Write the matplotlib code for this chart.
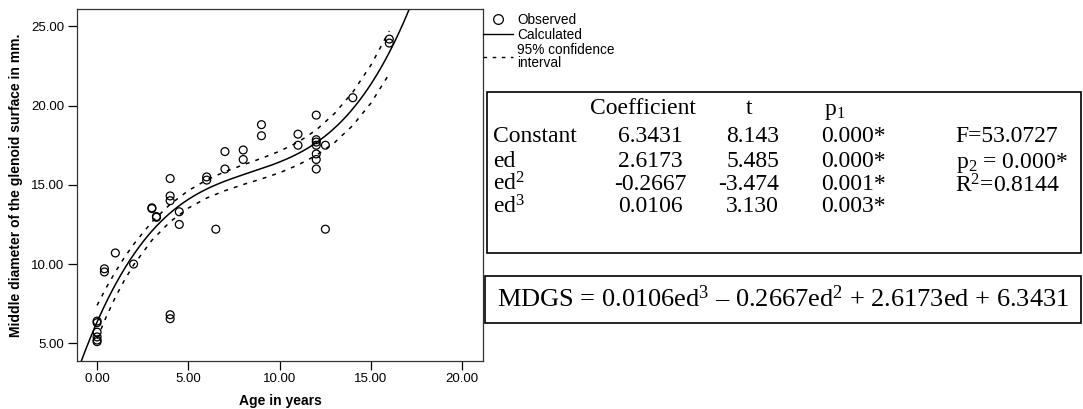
import numpy as np
import matplotlib.pyplot as plt
from matplotlib.lines import Line2D
from matplotlib.patches import Rectangle

plt.rcParams['font.family'] = 'Liberation Sans'
plt.rcParams['mathtext.fontset'] = 'custom'
plt.rcParams['mathtext.rm'] = 'Liberation Serif'
plt.rcParams['mathtext.it'] = 'Liberation Serif:italic'

# observed glenoid widths by age
age = [0, 0, 0, 0, 0, 0, 0.4, 0.4, 1, 2, 3, 3, 3.25, 3.25,
       4, 4, 4, 4, 4, 4.5, 4.5, 6, 6, 6.5, 7, 7, 8, 8, 9, 9, 11, 11,
       12, 12, 12, 12, 12, 12, 12, 12.5, 12.5, 14, 16, 16]
mdgs = [6.4, 6.3, 5.7, 5.4, 5.2, 5.1, 9.7, 9.5, 10.7, 10.0, 13.55, 13.5, 13.0, 12.95,
        15.4, 14.3, 14.0, 6.8, 6.55, 13.3, 12.5, 15.5, 15.3, 12.2, 17.1, 16.0, 17.2, 16.6,
        18.8, 18.1, 18.2, 17.5, 19.4, 17.85, 17.7, 17.5, 16.95, 16.6, 16.0, 17.5, 12.2,
        20.5, 24.2, 23.95]

# cubic model: constant, ed, ed^2, ed^3
terms = ['Constant', 'ed', 'ed$^2$', 'ed$^3$']
coef = [6.3431, 2.6173, -0.2667, 0.0106]
t_vals = ['8.143', '5.485', '-3.474', '3.130']
p_vals = ['0.000*', '0.000*', '0.001*', '0.003*']
f_stat = 53.0727
r2 = 0.8144

# half width of the 95% band around the fitted curve
ci_age = [0, 0.5, 1, 1.5, 2, 3, 4, 5, 6, 7, 8, 9, 10, 11, 12, 13, 14, 15, 16]
ci_half = [1.05, 0.92, 0.8, 0.72, 0.65, 0.58, 0.55, 0.55, 0.57, 0.6, 0.62, 0.65,
           0.68, 0.72, 0.8, 0.92, 1.05, 1.2, 1.35]

xs = np.linspace(-1.5, 17.5, 400)
fit = np.polyval(coef[::-1], xs)

ci_mid = np.polyval(coef[::-1], np.array(ci_age))
ci_hi = ci_mid + np.array(ci_half)
ci_lo = ci_mid - np.array(ci_half)

W, H = 1083, 409
fig = plt.figure(figsize=(W / 100, H / 100), dpi=100)
ax = fig.add_axes([77 / W, 1 - 361 / H, (483 - 77) / W, (361 - 9) / H])

ax.scatter(age, mdgs, s=32, facecolors='none', edgecolors='black', linewidths=0.9, zorder=3)
ax.plot(xs, fit, color='black', lw=1.1)
ax.plot(ci_age, ci_hi, color='black', lw=1.1, ls=(0, (2.6, 4)))
ax.plot(ci_age, ci_lo, color='black', lw=1.1, ls=(0, (2.6, 4)))

ax.set_xlim(-1.1, 21.13)
ax.set_ylim(3.88, 26.1)
ax.set_xticks([0, 5, 10, 15, 20])
ax.set_yticks([5, 10, 15, 20, 25])
ax.xaxis.set_major_formatter('{x:.2f}')
ax.yaxis.set_major_formatter('{x:.2f}')
ax.tick_params(direction='out', length=6.5, width=0.9, labelsize=9.5, pad=2.5)
for sp in ax.spines.values():
    sp.set_linewidth(0.9)
    sp.set_color('#333333')

ax.set_xlabel('Age in years', fontsize=10, fontweight='bold', labelpad=6)
ax.set_ylabel('Middle diameter of the glenoid surface in mm.', fontsize=10,
              fontweight='bold', labelpad=6)

handles = [
    Line2D([], [], ls='none', marker='o', markersize=7, markerfacecolor='none',
           markeredgecolor='black', markeredgewidth=0.9),
    Line2D([], [], color='black', lw=1),
    Line2D([], [], color='black', lw=1, ls=(0, (2.6, 4))),
]
leg = ax.legend(handles, ['Observed', 'Calculated', '95% confidence\ninterval'],
                loc='upper left', bbox_to_anchor=(1.0, 0.99), frameon=False,
                fontsize=9.8, handlelength=2.2, handletextpad=0.3, labelspacing=0.08,
                borderpad=0.0, borderaxespad=0.0)
leg.get_texts()[2].set_linespacing(0.95)


def px(x, y):
    return x / W, 1 - y / H


serif = 'Liberation Serif'
tsize = 17

fig.patches.append(Rectangle(px(487, 253), (1081 - 487) / W, (253 - 92) / H,
                             transform=fig.transFigure, fill=False, lw=1.2,
                             edgecolor='black'))
fig.patches.append(Rectangle(px(485, 323), (1081 - 485) / W, (323 - 276) / H,
                             transform=fig.transFigure, fill=False, lw=1.2,
                             edgecolor='black'))

fig.text(*px(643, 109), 'Coefficient', family=serif, fontsize=tsize, ha='center', va='center')
fig.text(*px(749, 109), 't', family=serif, fontsize=tsize, ha='center', va='center')
fig.text(*px(835, 111), 'p$_1$', family=serif, fontsize=tsize, ha='center', va='center')

row_y = [137, 162, 184, 207]
for yy, term, c, tv, pv in zip(row_y, terms, coef, t_vals, p_vals):
    fig.text(*px(493, yy), term, family=serif, fontsize=tsize, ha='left', va='center')
    fig.text(*px(650, yy), f'{c:.4f}', family=serif, fontsize=tsize, ha='center', va='center')
    fig.text(*px(779, yy), tv, family=serif, fontsize=tsize, ha='right', va='center')
    fig.text(*px(853, yy), pv, family=serif, fontsize=tsize, ha='center', va='center')

fig.text(*px(955, 137), f'F={f_stat:.4f}', family=serif, fontsize=tsize, ha='left', va='center')
fig.text(*px(956, 163), 'p$_2$ = 0.000*', family=serif, fontsize=tsize, ha='left', va='center')
fig.text(*px(955, 186), f'R$^2$={r2:.4f}', family=serif, fontsize=tsize, ha='left', va='center')

eq = (f'MDGS = {coef[3]:.4f}ed$^3$ \u2013 {abs(coef[2]):.4f}ed$^2$ + '
      f'{coef[1]:.4f}ed + {coef[0]:.4f}')
fig.text(*px(783, 299), eq, family=serif, fontsize=19, ha='center', va='center')

fig.savefig('out.png', dpi=100)
